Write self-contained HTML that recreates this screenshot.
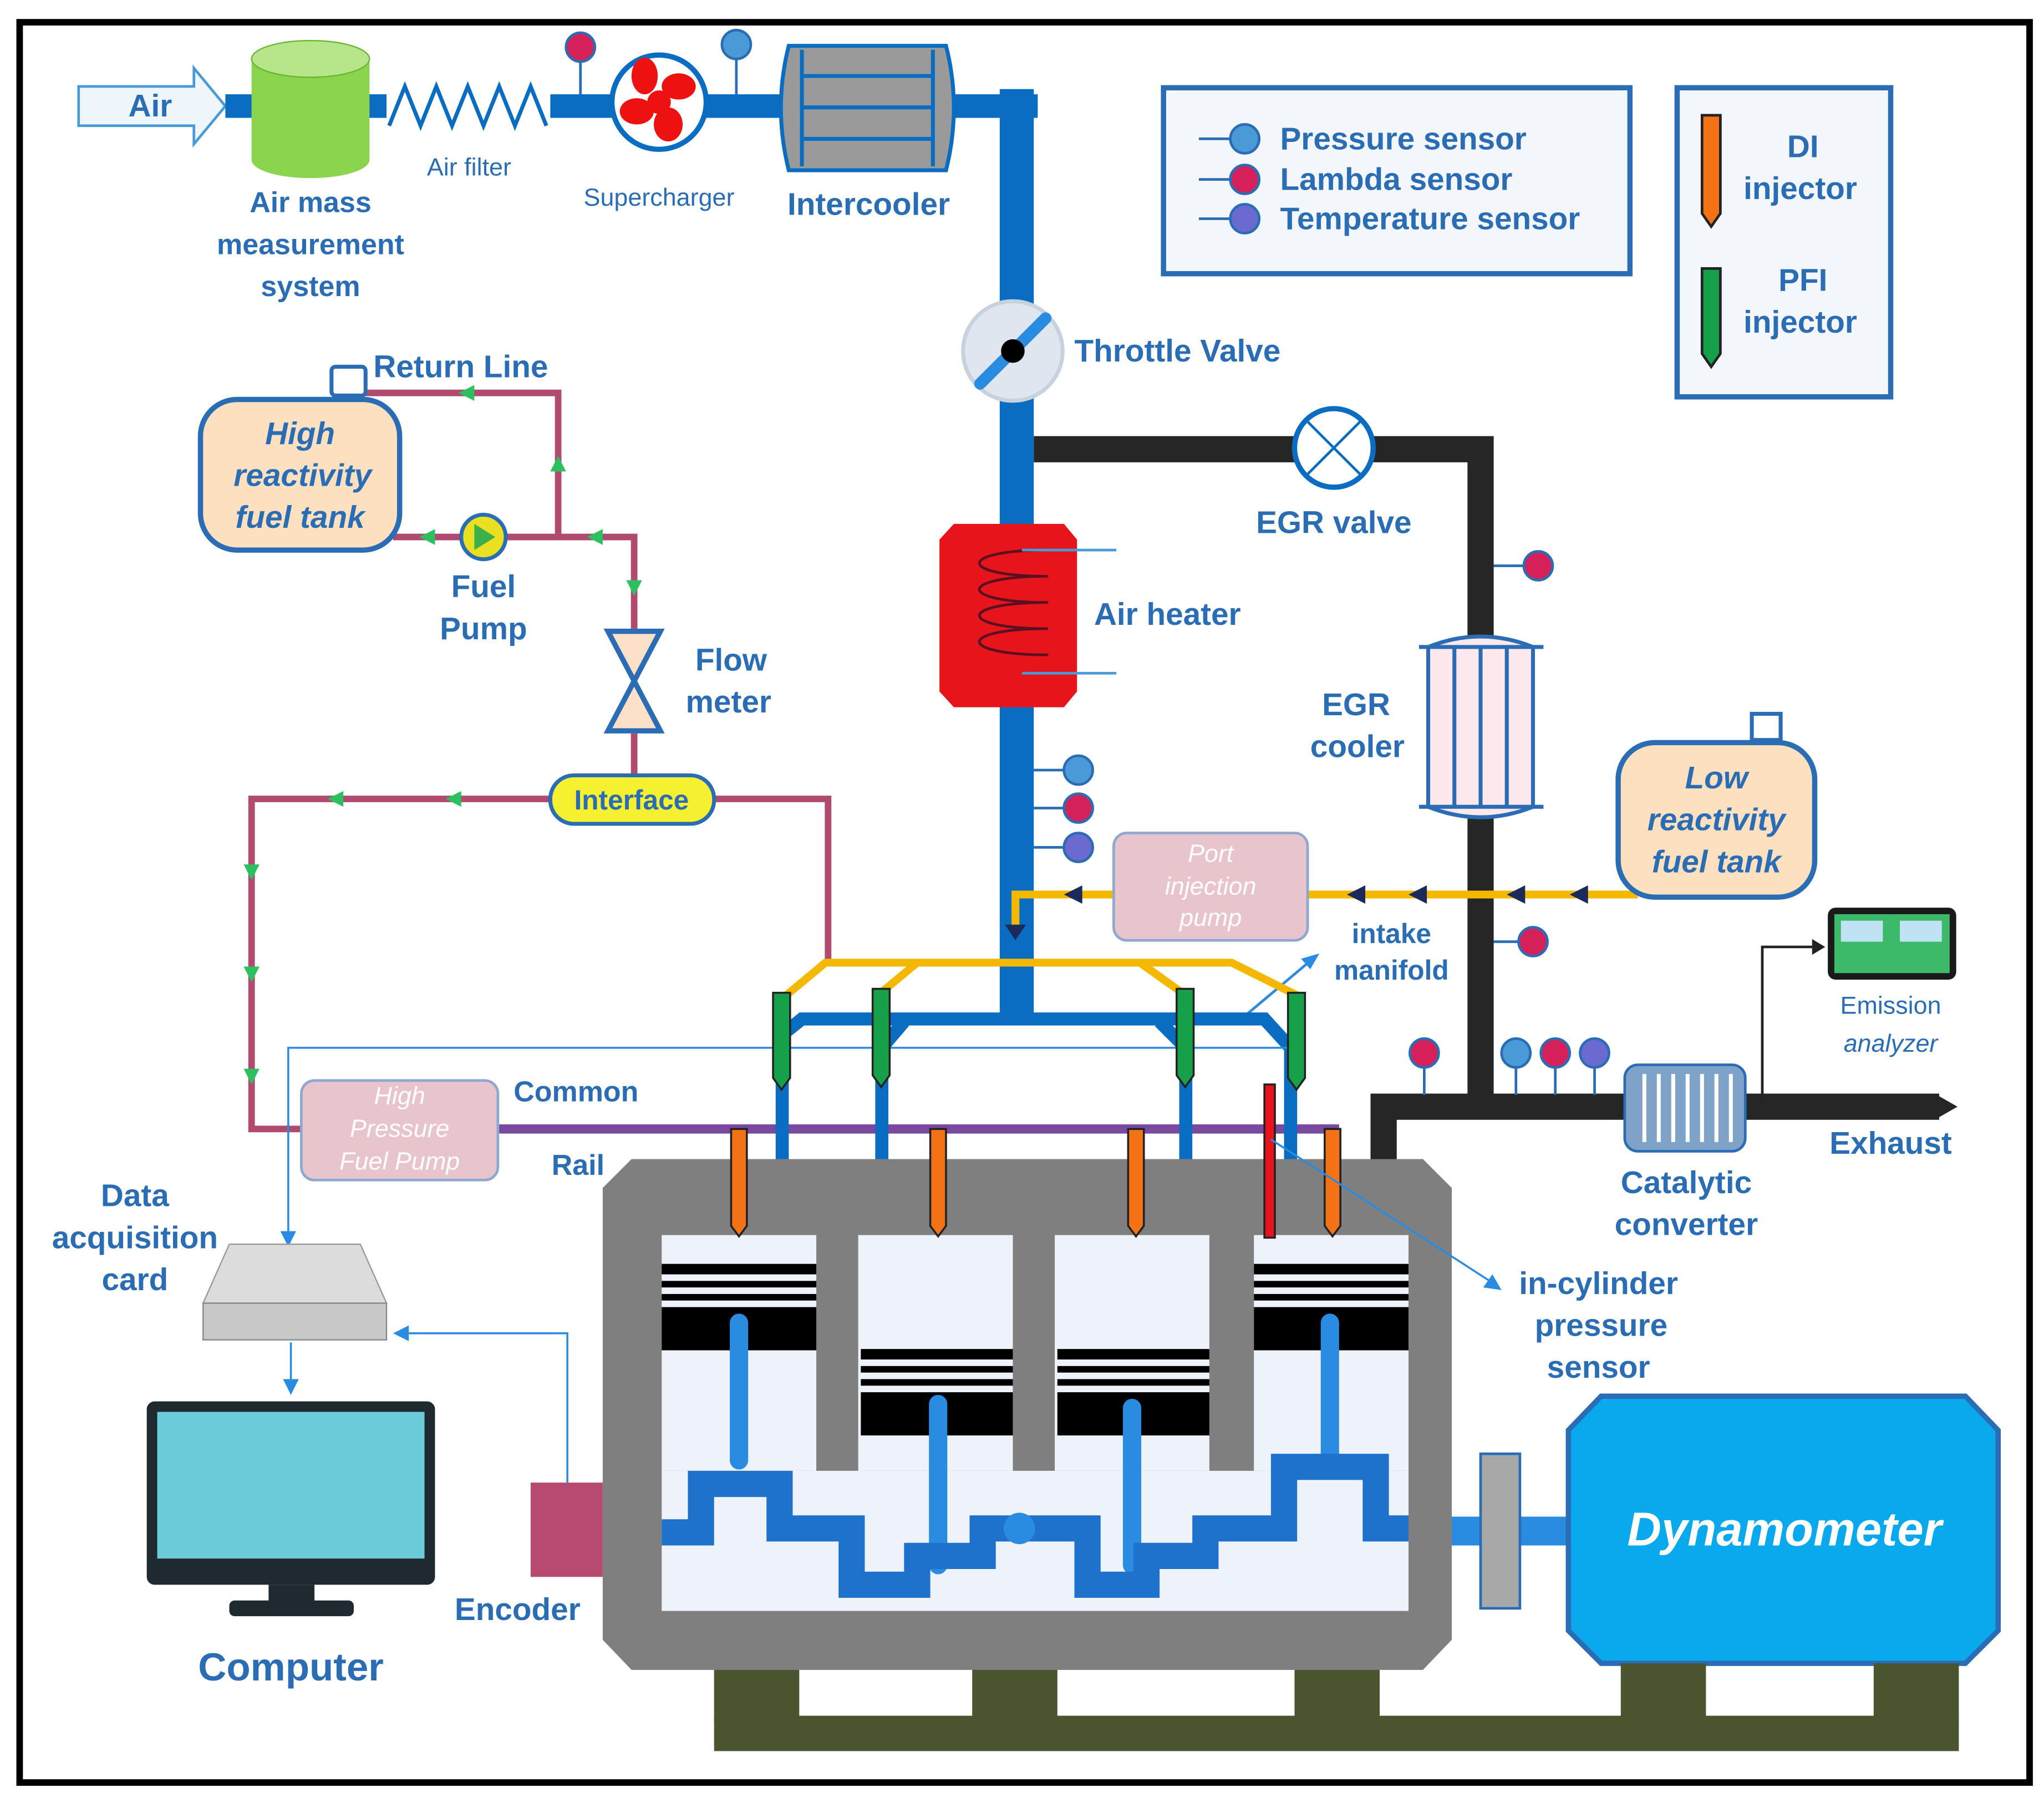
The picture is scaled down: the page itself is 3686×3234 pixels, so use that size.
<!DOCTYPE html>
<html><head><meta charset="utf-8"><style>
html,body{margin:0;padding:0;background:#fff}
svg{display:block}
text{font-family:"Liberation Sans",sans-serif;fill:#2a6db5}
</style></head><body>
<svg width="3686" height="3234" viewBox="0 0 1560 1369" preserveAspectRatio="none" xmlns="http://www.w3.org/2000/svg">
<rect x="0" y="0" width="1560" height="1369" fill="#fff"/>
<rect x="15" y="17" width="1534" height="1344" fill="none" stroke="#000" stroke-width="5"/>

<!-- Air arrow -->
<path d="M60,66 H148 V52 L172,81 L148,110 V96 H60 Z" fill="#eef6fc" stroke="#4a9ad8" stroke-width="2"/>
<text x="98" y="89" font-size="24" font-weight="bold">Air</text>
<!-- intake blue pipe -->
<rect x="172" y="72" width="620" height="18" fill="#0a6dc2"/>
<rect x="763" y="68" width="26" height="710" fill="#0a6dc2"/>
<!-- Air mass cylinder -->
<path d="M192,45 V122 A45,14 0 0 0 282,122 V45 Z" fill="#8bd44e"/>
<ellipse cx="237" cy="45" rx="45" ry="14" fill="#b6e58a" stroke="#6bb534"/>
<text x="237" y="162" font-size="22" text-anchor="middle" font-weight="bold">Air mass</text>
<text x="237" y="194" font-size="22" text-anchor="middle" font-weight="bold">measurement</text>
<text x="237" y="226" font-size="22" text-anchor="middle" font-weight="bold">system</text>
<!-- air filter -->
<rect x="295" y="66" width="125" height="30" fill="#fff"/>
<path d="M297,96 L309,66 L321,96 L333,66 L345,96 L357,66 L369,96 L381,66 L393,96 L405,66 L417,96" fill="none" stroke="#0a6dc2" stroke-width="3"/>
<text x="358" y="134" font-size="19" text-anchor="middle">Air filter</text>
<!-- sensors -->
<g stroke="#2a6db5" stroke-width="2"><line x1="443" y1="36" x2="443" y2="72"/><line x1="562" y1="34" x2="562" y2="72"/></g>
<circle cx="443" cy="36" r="11" fill="#d6205a" stroke="#2a6db5" stroke-width="2"/>
<circle cx="562" cy="34" r="11" fill="#4a9ad8" stroke="#2a6db5" stroke-width="2"/>
<!-- Supercharger -->
<circle cx="503" cy="78" r="36" fill="#fff" stroke="#0a6dc2" stroke-width="4"/>
<g fill="#e11"><ellipse cx="492" cy="58" rx="10" ry="14"/><ellipse cx="518" cy="66" rx="13" ry="10"/><ellipse cx="510" cy="95" rx="11" ry="13"/><ellipse cx="486" cy="85" rx="13" ry="10"/><circle cx="503" cy="78" r="9"/></g>
<text x="503" y="157" font-size="19" text-anchor="middle">Supercharger</text>
<!-- Intercooler -->
<path d="M602,35 H722 Q734,82 722,130 H602 Q590,82 602,35 Z" fill="#9a9a9a" stroke="#0a6dc2" stroke-width="3"/>
<g stroke="#0a6dc2" stroke-width="3"><line x1="612" y1="38" x2="612" y2="127"/><line x1="712" y1="38" x2="712" y2="127"/><line x1="612" y1="58" x2="712" y2="58"/><line x1="612" y1="82" x2="712" y2="82"/><line x1="612" y1="106" x2="712" y2="106"/></g>
<text x="663" y="164" font-size="24" text-anchor="middle" font-weight="bold">Intercooler</text>
<!-- Legend -->
<rect x="888" y="67" width="356" height="142" fill="#f3f6fb" stroke="#2a6db5" stroke-width="4"/>
<g stroke="#2a6db5" stroke-width="2"><line x1="915" y1="106" x2="945" y2="106"/><line x1="915" y1="137" x2="945" y2="137"/><line x1="915" y1="167" x2="945" y2="167"/></g>
<circle cx="950" cy="106" r="11" fill="#4a9ad8" stroke="#2a6db5" stroke-width="2"/>
<circle cx="950" cy="137" r="11" fill="#d6205a" stroke="#2a6db5" stroke-width="2"/>
<circle cx="950" cy="167" r="11" fill="#6a6ad0" stroke="#2a6db5" stroke-width="2"/>
<text x="977" y="114" font-size="24" font-weight="bold">Pressure sensor</text>
<text x="977" y="145" font-size="24" font-weight="bold">Lambda sensor</text>
<text x="977" y="175" font-size="24" font-weight="bold">Temperature sensor</text>
<rect x="1280" y="67" width="163" height="236" fill="#f3f6fb" stroke="#2a6db5" stroke-width="4"/>
<path d="M1299,88 h14 v75 l-7,10 l-7,-10 Z" fill="#f47216" stroke="#222" stroke-width="2"/>
<path d="M1299,205 h14 v65 l-7,10 l-7,-10 Z" fill="#16a04a" stroke="#222" stroke-width="2"/>
<text x="1376" y="120" font-size="24" text-anchor="middle" font-weight="bold">DI</text>
<text x="1374" y="152" font-size="24" text-anchor="middle" font-weight="bold">injector</text>
<text x="1376" y="222" font-size="24" text-anchor="middle" font-weight="bold">PFI</text>
<text x="1374" y="254" font-size="24" text-anchor="middle" font-weight="bold">injector</text>

<!-- EGR black pipes -->
<path d="M789,343 H1130 V840" fill="none" stroke="#262626" stroke-width="20"/>
<path d="M1056,942 V845 H1480" fill="none" stroke="#262626" stroke-width="20"/>
<path d="M1480,837 l14,8 l-14,8 Z" fill="#262626"/>
<!-- Throttle -->
<circle cx="773" cy="268" r="38" fill="#dfe6ef" stroke="#c8d2de" stroke-width="3"/>
<line x1="748" y1="293" x2="798" y2="243" stroke="#2a8ce0" stroke-width="9" stroke-linecap="round"/>
<circle cx="773" cy="268" r="9" fill="#000"/>
<text x="820" y="276" font-size="24" font-weight="bold">Throttle Valve</text>
<!-- EGR valve -->
<circle cx="1018" cy="342" r="30" fill="#fff" stroke="#0a6dc2" stroke-width="4"/>
<line x1="997" y1="321" x2="1039" y2="363" stroke="#0a6dc2" stroke-width="2"/><line x1="1039" y1="321" x2="997" y2="363" stroke="#0a6dc2" stroke-width="2"/>
<text x="1018" y="407" font-size="24" text-anchor="middle" font-weight="bold">EGR valve</text>
<line x1="1140" y1="432" x2="1168" y2="432" stroke="#2a6db5" stroke-width="2"/>
<circle cx="1174" cy="432" r="11" fill="#d6205a" stroke="#2a6db5" stroke-width="2"/>
<!-- Air heater -->
<path d="M728,400 H812 L822,412 V528 L812,540 H728 L717,528 V412 Z" fill="#e8141c"/>
<path d="M800,420 C730,420 730,440 800,440 C730,440 730,460 800,460 C730,460 730,480 800,480 C730,480 730,500 800,500" fill="none" stroke="#5a1020" stroke-width="2"/>
<line x1="780" y1="420" x2="852" y2="420" stroke="#4a9ad8" stroke-width="2"/><line x1="780" y1="514" x2="852" y2="514" stroke="#4a9ad8" stroke-width="2"/>
<text x="835" y="477" font-size="24" font-weight="bold">Air heater</text>
<!-- EGR cooler -->
<path d="M1090,494 Q1130,478 1170,494 V616 Q1130,632 1090,616 Z" fill="#fde8ee" stroke="#2a6db5" stroke-width="3"/>
<g stroke="#2a6db5" stroke-width="3"><line x1="1083" y1="494" x2="1178" y2="494"/><line x1="1083" y1="616" x2="1178" y2="616"/><line x1="1110" y1="494" x2="1110" y2="616"/><line x1="1130" y1="494" x2="1130" y2="616"/><line x1="1150" y1="494" x2="1150" y2="616"/></g>
<text x="1035" y="546" font-size="24" text-anchor="middle" font-weight="bold">EGR</text>
<text x="1036" y="578" font-size="24" text-anchor="middle" font-weight="bold">cooler</text>
<!-- intake sensors -->
<g stroke="#2a6db5" stroke-width="2"><line x1="789" y1="588" x2="812" y2="588"/><line x1="789" y1="617" x2="812" y2="617"/><line x1="789" y1="647" x2="812" y2="647"/></g>
<circle cx="823" cy="588" r="11" fill="#4a9ad8" stroke="#2a6db5" stroke-width="2"/>
<circle cx="823" cy="617" r="11" fill="#d6205a" stroke="#2a6db5" stroke-width="2"/>
<circle cx="823" cy="647" r="11" fill="#6a6ad0" stroke="#2a6db5" stroke-width="2"/>
<!-- yellow PFI line -->
<path d="M1250,683 H775 V712" fill="none" stroke="#f5b800" stroke-width="6"/>
<g fill="#1b2a5a"><path d="M812,683 l14,-7 v14Z"/><path d="M1028,683 l14,-7 v14Z"/><path d="M1075,683 l14,-7 v14Z"/><path d="M1150,683 l14,-7 v14Z"/><path d="M1198,683 l14,-7 v14Z"/><path d="M767,706 h16 l-8,12Z"/></g>
<rect x="850" y="636" width="148" height="82" rx="10" fill="#e8c4cc" stroke="#8fa8d0" stroke-width="2"/>
<text x="924" y="658" font-size="19" text-anchor="middle" font-style="italic" style="fill:#fff">Port</text>
<text x="924" y="683" font-size="19" text-anchor="middle" font-style="italic" style="fill:#fff">injection</text>
<text x="924" y="707" font-size="19" text-anchor="middle" font-style="italic" style="fill:#fff">pump</text>
<!-- low reactivity tank -->
<rect x="1337" y="545" width="22" height="20" fill="#fff" stroke="#2a6db5" stroke-width="3"/>
<rect x="1235" y="567" width="150" height="118" rx="28" fill="#fde0c0" stroke="#2a6db5" stroke-width="4"/>
<text x="1310" y="602" font-size="24" text-anchor="middle" font-style="italic" font-weight="bold">Low</text>
<text x="1310" y="634" font-size="24" text-anchor="middle" font-style="italic" font-weight="bold">reactivity</text>
<text x="1310" y="666" font-size="24" text-anchor="middle" font-style="italic" font-weight="bold">fuel tank</text>
<line x1="1140" y1="719" x2="1162" y2="719" stroke="#2a6db5" stroke-width="2"/>
<circle cx="1170" cy="719" r="11" fill="#d6205a" stroke="#2a6db5" stroke-width="2"/>
<text x="1062" y="720" font-size="21" text-anchor="middle" font-weight="bold">intake</text>
<text x="1062" y="748" font-size="21" text-anchor="middle" font-weight="bold">manifold</text>
<line x1="945" y1="780" x2="1002" y2="732" stroke="#2a8ce0" stroke-width="2"/><path d="M1007,728 l-14,4 l7,8Z" fill="#2a8ce0"/>

<!-- Emission analyzer -->
<path d="M1345,840 V723 H1385" fill="none" stroke="#222" stroke-width="2"/><path d="M1393,723 l-10,-6 v12Z" fill="#222"/>
<rect x="1395" y="693" width="98" height="55" rx="6" fill="#1a1a1a"/>
<rect x="1400" y="698" width="88" height="45" fill="#3cba6a"/>
<rect x="1405" y="703" width="32" height="16" fill="#bfe3f5"/><rect x="1450" y="703" width="32" height="16" fill="#bfe3f5"/>
<text x="1443" y="774" font-size="19" text-anchor="middle">Emission</text>
<text x="1443" y="803" font-size="19" text-anchor="middle" font-style="italic">analyzer</text>
<!-- catalytic converter -->
<rect x="1240" y="813" width="92" height="66" rx="10" fill="#7fa3c8" stroke="#2a6db5" stroke-width="2"/>
<g stroke="#fff" stroke-width="3"><line x1="1255" y1="820" x2="1255" y2="872"/><line x1="1266" y1="820" x2="1266" y2="872"/><line x1="1277" y1="820" x2="1277" y2="872"/><line x1="1288" y1="820" x2="1288" y2="872"/><line x1="1299" y1="820" x2="1299" y2="872"/><line x1="1310" y1="820" x2="1310" y2="872"/><line x1="1321" y1="820" x2="1321" y2="872"/></g>
<text x="1287" y="911" font-size="24" text-anchor="middle" font-weight="bold">Catalytic</text>
<text x="1287" y="943" font-size="24" text-anchor="middle" font-weight="bold">converter</text>
<text x="1443" y="881" font-size="24" text-anchor="middle" font-weight="bold">Exhaust</text>
<g stroke="#2a6db5" stroke-width="2"><line x1="1087" y1="805" x2="1087" y2="836"/><line x1="1157" y1="805" x2="1157" y2="836"/><line x1="1187" y1="805" x2="1187" y2="836"/><line x1="1217" y1="805" x2="1217" y2="836"/></g>
<circle cx="1087" cy="804" r="11" fill="#d6205a" stroke="#2a6db5" stroke-width="2"/>
<circle cx="1157" cy="804" r="11" fill="#4a9ad8" stroke="#2a6db5" stroke-width="2"/>
<circle cx="1187" cy="804" r="11" fill="#d6205a" stroke="#2a6db5" stroke-width="2"/>
<circle cx="1217" cy="804" r="11" fill="#6a6ad0" stroke="#2a6db5" stroke-width="2"/>

<!-- Fuel circuit -->
<g fill="none" stroke="#b04a6e" stroke-width="5">
<path d="M265,300 H426 V410"/>
<path d="M300,410 H484 V480"/>
<path d="M484,560 V600"/>
<path d="M420,610 H192 V862 H232"/>
<path d="M545,610 H632 V735"/>
</g>
<path d="M380,862 H1022" stroke="#7a4aa0" stroke-width="7"/>
<g fill="#2cc060"><path d="M350,300 l12,-6 v12Z"/><path d="M426,348 l-6,12 h12Z"/><path d="M320,410 l12,-6 v12Z"/><path d="M448,410 l12,-6 v12Z"/><path d="M484,455 l-6,-12 h12Z"/><path d="M340,610 l12,-6 v12Z"/><path d="M250,610 l12,-6 v12Z"/><path d="M192,672 l-6,-12 h12Z"/><path d="M192,750 l-6,-12 h12Z"/><path d="M192,828 l-6,-12 h12Z"/></g>
<rect x="253" y="280" width="26" height="22" rx="3" fill="#fff" stroke="#2a6db5" stroke-width="3"/>
<rect x="153" y="305" width="152" height="115" rx="28" fill="#fde0c0" stroke="#2a6db5" stroke-width="4"/>
<text x="229" y="339" font-size="24" text-anchor="middle" font-style="italic" font-weight="bold">High</text>
<text x="231" y="371" font-size="24" text-anchor="middle" font-style="italic" font-weight="bold">reactivity</text>
<text x="229" y="403" font-size="24" text-anchor="middle" font-style="italic" font-weight="bold">fuel tank</text>
<text x="285" y="288" font-size="24" font-weight="bold">Return Line</text>
<circle cx="369" cy="410" r="17" fill="#e8e020" stroke="#2a6db5" stroke-width="3"/>
<path d="M362,400 l16,10 l-16,10Z" fill="#3cb04a"/>
<text x="369" y="456" font-size="24" text-anchor="middle" font-weight="bold">Fuel</text>
<text x="369" y="488" font-size="24" text-anchor="middle" font-weight="bold">Pump</text>
<path d="M464,482 H504 L464,558 H504 Z" fill="#fde0c8" stroke="#2a6db5" stroke-width="4"/>
<text x="558" y="512" font-size="24" text-anchor="middle" font-weight="bold">Flow</text>
<text x="556" y="544" font-size="24" text-anchor="middle" font-weight="bold">meter</text>
<rect x="420" y="592" width="125" height="37" rx="18" fill="#f5f030" stroke="#2a6db5" stroke-width="3"/>
<text x="482" y="618" font-size="21" text-anchor="middle" font-weight="bold">Interface</text>
<rect x="230" y="825" width="150" height="76" rx="10" fill="#e8c4cc" stroke="#8fa8d0" stroke-width="2"/>
<text x="305" y="843" font-size="19" text-anchor="middle" font-style="italic" style="fill:#fff">High</text>
<text x="305" y="868" font-size="19" text-anchor="middle" font-style="italic" style="fill:#fff">Pressure</text>
<text x="305" y="893" font-size="19" text-anchor="middle" font-style="italic" style="fill:#fff">Fuel Pump</text>
<text x="392" y="841" font-size="22" font-weight="bold">Common</text>
<text x="421" y="897" font-size="22" font-weight="bold">Rail</text>

<!-- yellow manifold -->
<path d="M600,760 L630,735 H940 L990,760 M670,760 L700,735 M905,760 L870,735" fill="none" stroke="#f5b800" stroke-width="6"/>
<!-- blue intake manifold -->
<g fill="none" stroke="#0a6dc2" stroke-width="10">
<path d="M597,945 V790 L612,778 H965 L985,800 V945"/>
<path d="M673,945 V800 L690,780"/>
<path d="M905,945 V800 L885,780"/>
</g>
<!-- data line -->
<path d="M985,800 H220 V945" fill="none" stroke="#2a8ce0" stroke-width="1.5"/>
<path d="M214,940 h12 l-6,12Z" fill="#2a8ce0"/>

<!-- Engine block -->
<path d="M482,885 H1086 L1108,907 V1252 L1086,1275 H482 L460,1252 V907 Z" fill="#7f7f7f"/>
<g fill="#eef2fa"><rect x="505" y="943" width="118" height="180"/><rect x="655" y="943" width="118" height="180"/><rect x="805" y="943" width="118" height="180"/><rect x="957" y="943" width="118" height="180"/><rect x="505" y="1123" width="570" height="107"/></g>
<!-- pistons -->
<g fill="#000">
<rect x="505" y="965" width="118" height="8"/><rect x="505" y="978" width="118" height="5"/><rect x="505" y="988" width="118" height="5"/><rect x="505" y="998" width="118" height="33"/>
<rect x="957" y="965" width="118" height="8"/><rect x="957" y="978" width="118" height="5"/><rect x="957" y="988" width="118" height="5"/><rect x="957" y="998" width="118" height="33"/>
<rect x="657" y="1030" width="116" height="8"/><rect x="657" y="1043" width="116" height="5"/><rect x="657" y="1053" width="116" height="5"/><rect x="657" y="1063" width="116" height="33"/>
<rect x="807" y="1030" width="116" height="8"/><rect x="807" y="1043" width="116" height="5"/><rect x="807" y="1053" width="116" height="5"/><rect x="807" y="1063" width="116" height="33"/>
</g>
<g stroke="#2a8ce0" stroke-width="14" stroke-linecap="round"><line x1="564" y1="1010" x2="564" y2="1115"/><line x1="1015" y1="1010" x2="1015" y2="1115"/><line x1="716" y1="1072" x2="716" y2="1195"/><line x1="864" y1="1075" x2="864" y2="1195"/></g>
<path d="M505,1170 H535 V1133 H595 V1167 H650 V1210 H700 V1188 H750 V1167 H778 H830 V1210 H875 V1188 H920 V1167 H980 V1120 H1050 V1167 H1075" fill="none" stroke="#1f72cc" stroke-width="20"/>
<circle cx="778" cy="1167" r="12" fill="#2a8ce0"/>
<!-- injectors -->
<g stroke="#222" stroke-width="1.5">
<path d="M558,862 h12 v74 l-6,8 l-6,-8Z" fill="#f47216"/>
<path d="M710,862 h12 v74 l-6,8 l-6,-8Z" fill="#f47216"/>
<path d="M861,862 h12 v74 l-6,8 l-6,-8Z" fill="#f47216"/>
<path d="M1011,862 h12 v74 l-6,8 l-6,-8Z" fill="#f47216"/>
<rect x="965" y="828" width="8" height="117" fill="#e8141c"/>
<path d="M590,758 h13 v65 l-6.5,9 l-6.5,-9Z" fill="#16a04a"/>
<path d="M666,755 h13 v66 l-6.5,9 l-6.5,-9Z" fill="#16a04a"/>
<path d="M898,755 h13 v66 l-6.5,9 l-6.5,-9Z" fill="#16a04a"/>
<path d="M983,758 h13 v65 l-6.5,9 l-6.5,-9Z" fill="#16a04a"/>
</g>
<line x1="970" y1="870" x2="1140" y2="980" stroke="#2a8ce0" stroke-width="1.5"/><path d="M1146,985 l-14,-2 l7,-10Z" fill="#2a8ce0"/>
<text x="1220" y="988" font-size="24" text-anchor="middle" font-weight="bold">in-cylinder</text>
<text x="1222" y="1020" font-size="24" text-anchor="middle" font-weight="bold">pressure</text>
<text x="1220" y="1052" font-size="24" text-anchor="middle" font-weight="bold">sensor</text>

<!-- shaft & dyno -->
<rect x="1108" y="1158" width="95" height="22" fill="#2a8ce0"/>
<rect x="1130" y="1110" width="30" height="118" fill="#a8a8a8" stroke="#2a6db5" stroke-width="2"/>
<path d="M1222,1066 H1500 L1525,1092 V1245 L1500,1270 H1222 L1197,1245 V1092 Z" fill="#0aa8ec" stroke="#2a6db5" stroke-width="4"/>
<text x="1362" y="1180" font-size="36" text-anchor="middle" font-weight="bold" font-style="italic" style="fill:#fff">Dynamometer</text>
<!-- base -->
<g fill="#4a5530"><rect x="545" y="1310" width="950" height="27"/><rect x="545" y="1275" width="65" height="40"/><rect x="742" y="1275" width="65" height="40"/><rect x="988" y="1275" width="65" height="40"/><rect x="1237" y="1270" width="65" height="45"/><rect x="1430" y="1270" width="65" height="45"/></g>

<!-- Encoder -->
<rect x="405" y="1132" width="55" height="72" fill="#b84a72"/>
<path d="M433,1132 V1018 H312" fill="none" stroke="#2a8ce0" stroke-width="1.5"/><path d="M300,1018 l12,-6 v12Z" fill="#2a8ce0"/>
<text x="395" y="1237" font-size="24" text-anchor="middle" font-weight="bold">Encoder</text>
<!-- DAQ -->
<path d="M175,950 H275 L295,995 H155 Z" fill="#dcdcdc" stroke="#999"/>
<rect x="155" y="995" width="140" height="28" fill="#c8c8c8" stroke="#888"/>
<text x="103" y="921" font-size="24" text-anchor="middle" font-weight="bold">Data</text>
<text x="103" y="953" font-size="24" text-anchor="middle" font-weight="bold">acquisition</text>
<text x="103" y="985" font-size="24" text-anchor="middle" font-weight="bold">card</text>
<line x1="222" y1="1025" x2="222" y2="1055" stroke="#2a8ce0" stroke-width="1.5"/><path d="M216,1053 h12 l-6,12Z" fill="#2a8ce0"/>
<!-- Computer -->
<rect x="112" y="1070" width="220" height="140" rx="6" fill="#1e2a30"/>
<rect x="120" y="1078" width="204" height="112" fill="#6ccbd8"/>
<rect x="205" y="1210" width="35" height="14" fill="#1e2a30"/><rect x="175" y="1222" width="95" height="12" rx="4" fill="#1e2a30"/>
<text x="222" y="1283" font-size="30" text-anchor="middle" font-weight="bold">Computer</text>
</svg>
</body></html>
